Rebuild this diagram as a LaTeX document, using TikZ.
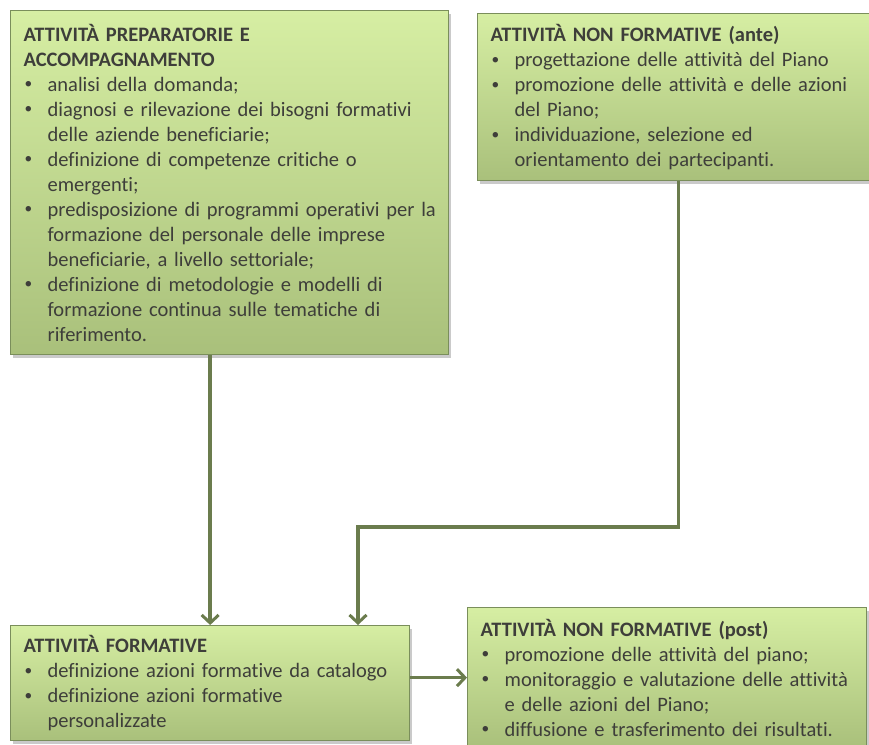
\documentclass[tikz,border=0pt]{standalone}
\usepackage{fontspec}
\setmainfont{Carlito}[Ligatures={NoCommon}]
\usetikzlibrary{arrows.meta,shadows}

\definecolor{boxtop}{HTML}{D6EEA3}
\definecolor{boxbot}{HTML}{A9C07B}
\definecolor{boxline}{HTML}{7A8E5B}
\definecolor{linkcol}{HTML}{6B7C4D}
\definecolor{txt}{HTML}{3E3E3A}

% bullet item with hanging indent
\newcommand{\bitem}{\par\hangindent=24pt\hangafter=1\noindent\makebox[24pt][l]{\hspace*{1pt}\raisebox{0.12em}{\scalebox{0.75}{\textbullet}}}}
\newcommand{\btitle}[1]{\raggedright\noindent\textbf{#1}}

\begin{document}
\begin{tikzpicture}[x=1pt,y=-1pt,
  panel/.style={draw=boxline, line width=1.3pt, top color=boxtop, bottom color=boxbot,
    drop shadow={shadow xshift=2pt, shadow yshift=-3pt, opacity=0.35, fill=black!60},
    anchor=north west, inner xsep=13pt, inner ysep=0pt, align=left,
    font=\fontsize{20.5}{25}\selectfont, text=txt},
  link/.style={draw=linkcol, line width=3.5pt,
    -{Straight Barb[length=8pt,width=17pt,line width=3pt]}}
]
\useasboundingbox (0,0) rectangle (869,744);
\clip (0,0) rectangle (869,744);

\node[panel, text width=412pt, minimum height=344pt] (prep) at (10,10) {%
\btitle{ATTIVITÀ PREPARATORIE E}\newline\textbf{ACCOMPAGNAMENTO}
\bitem analisi della domanda;
\bitem diagnosi e rilevazione dei bisogni formativi\newline delle aziende beneficiarie;
\bitem definizione di competenze critiche o\newline emergenti;
\bitem \mbox{predisposizione di programmi operativi per la}\newline formazione del personale delle imprese\newline beneficiarie, a livello settoriale;
\bitem definizione di metodologie e modelli di\newline formazione continua sulle tematiche di\newline riferimento.\par};

\node[panel, text width=376pt, minimum height=167pt] (ante) at (477,13) {%
\btitle{ATTIVITÀ NON FORMATIVE (ante)}
\bitem progettazione delle attività del Piano
\bitem promozione delle attività e delle azioni\newline del Piano;
\bitem individuazione, selezione ed\newline orientamento dei partecipanti.\par};

\node[panel, text width=373pt, minimum height=115pt] (form) at (10,625) {%
\btitle{ATTIVITÀ FORMATIVE}
\bitem definizione azioni formative da catalogo
\bitem definizione azioni formative\newline personalizzate\par};

\node[panel, text width=373pt, minimum height=140pt] (post) at (467,607) {%
\btitle{ATTIVITÀ NON FORMATIVE (post)}
\bitem promozione delle attività del piano;
\bitem \mbox{monitoraggio e valutazione delle attività}\newline e delle azioni del Piano;
\bitem diffusione e trasferimento dei risultati.\par};

\coordinate (turn) at (358,527);

\draw[link] (form.north |- prep.south) -- (form.north);
\draw[link] (ante.south) |- (turn) -- (turn |- form.north);
\draw[link] (form.east |- post.west) -- (post.west);
\end{tikzpicture}
\end{document}
